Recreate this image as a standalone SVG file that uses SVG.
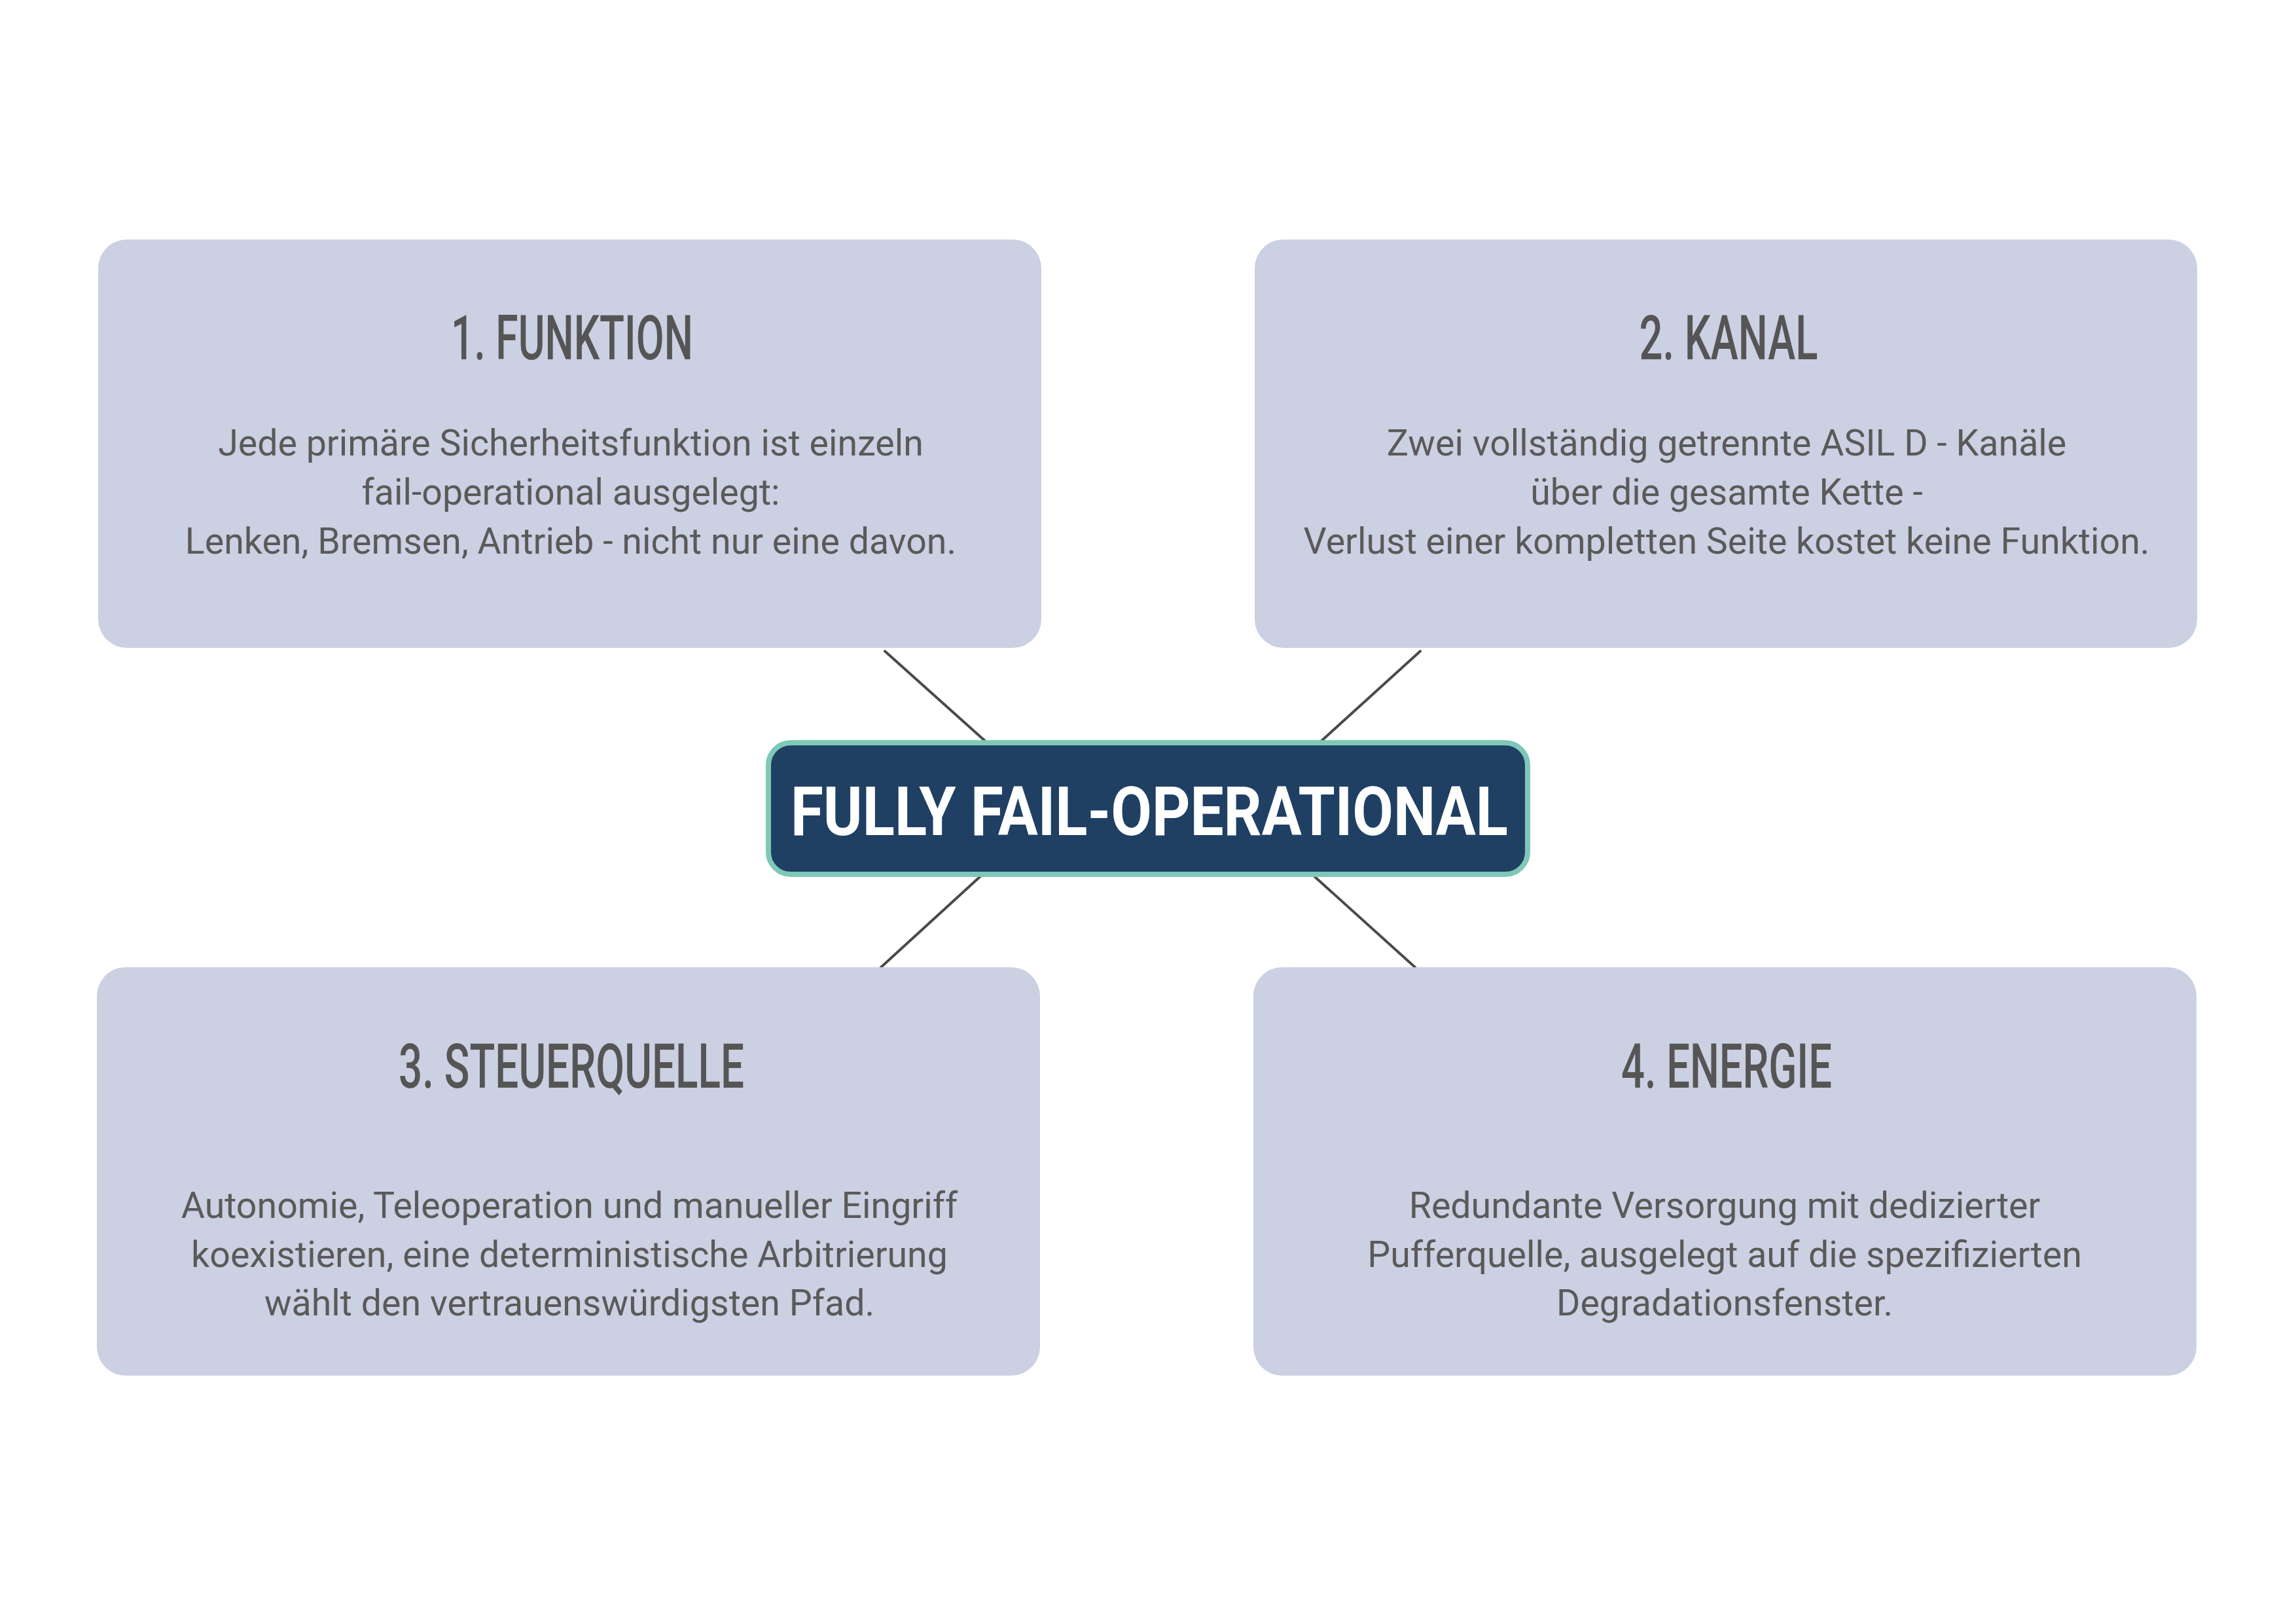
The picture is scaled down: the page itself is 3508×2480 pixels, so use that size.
<svg xmlns="http://www.w3.org/2000/svg" width="3508" height="2480" viewBox="0 0 3508 2480">
<style>
.box{fill:#CBD0E2}
.head{font-family:Roboto,"Liberation Sans",sans-serif;font-weight:500;font-size:94px;fill:#555555;text-anchor:middle}
.body{font-family:Roboto,"Liberation Sans",sans-serif;font-size:55.5px;fill:#5a5a5a;text-anchor:middle}
.conn{stroke:#4a4a4a;stroke-width:4;fill:none;stroke-linecap:round}
.center{fill:#1F4063;stroke:#7EC8B8;stroke-width:8}
.ctext{font-family:Roboto,"Liberation Sans",sans-serif;font-weight:700;font-size:104px;fill:#ffffff;text-anchor:middle}
</style>
<rect width="3508" height="2480" fill="#ffffff"/>
<g id="connectors">
<line class="conn" x1="1352" y1="995" x2="1506" y2="1133"/>
<line class="conn" x1="2170" y1="995" x2="2018" y2="1133"/>
<line class="conn" x1="1498" y1="1339" x2="1346" y2="1478"/>
<line class="conn" x1="2008" y1="1339" x2="2162" y2="1478"/>
</g>
<g id="node-funktion">
<rect class="box" x="150" y="366" width="1441" height="624" rx="44"/>
<text class="head" x="874" y="549" textLength="370" lengthAdjust="spacingAndGlyphs">1. FUNKTION</text>
<text class="body" x="872" y="696">Jede primäre Sicherheitsfunktion ist einzeln</text>
<text class="body" x="872" y="771">fail-operational ausgelegt:</text>
<text class="body" x="872" y="846">Lenken, Bremsen, Antrieb - nicht nur eine davon.</text>
</g>
<g id="node-kanal">
<rect class="box" x="1917" y="366" width="1440" height="624" rx="44"/>
<text class="head" x="2641" y="549" textLength="273" lengthAdjust="spacingAndGlyphs">2. KANAL</text>
<text class="body" x="2638" y="696">Zwei vollständig getrennte ASIL D - Kanäle</text>
<text class="body" x="2638" y="771">über die gesamte Kette -</text>
<text class="body" x="2638" y="846">Verlust einer kompletten Seite kostet keine Funktion.</text>
</g>
<g id="node-steuerquelle">
<rect class="box" x="148" y="1478" width="1441" height="624" rx="44"/>
<text class="head" x="873" y="1662" textLength="528" lengthAdjust="spacingAndGlyphs">3. STEUERQUELLE</text>
<text class="body" x="870" y="1861">Autonomie, Teleoperation und manueller Eingriff</text>
<text class="body" x="870" y="1936">koexistieren, eine deterministische Arbitrierung</text>
<text class="body" x="870" y="2010">wählt den vertrauenswürdigsten Pfad.</text>
</g>
<g id="node-energie">
<rect class="box" x="1915" y="1478" width="1441" height="624" rx="44"/>
<text class="head" x="2638" y="1662" textLength="322" lengthAdjust="spacingAndGlyphs">4. ENERGIE</text>
<text class="body" x="2635" y="1861">Redundante Versorgung mit dedizierter</text>
<text class="body" x="2635" y="1936">Pufferquelle, ausgelegt auf die spezifizierten</text>
<text class="body" x="2635" y="2010">Degradationsfenster.</text>
</g>
<g id="node-center">
<rect class="center" x="1174" y="1135" width="1160" height="201" rx="34"/>
<text class="ctext" x="1756" y="1276" textLength="1096" lengthAdjust="spacingAndGlyphs">FULLY FAIL-OPERATIONAL</text>
</g>
</svg>
